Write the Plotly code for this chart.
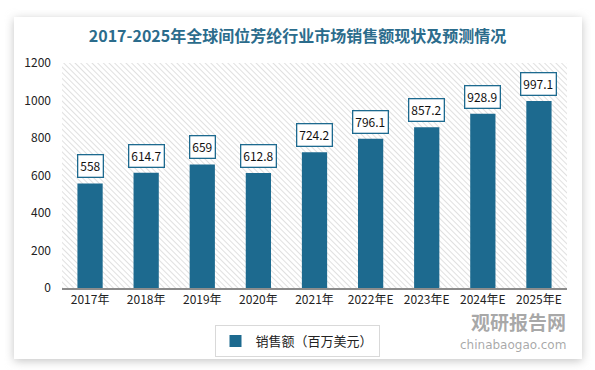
import base64
import plotly.graph_objects as go

categories = ["2017年", "2018年", "2019年", "2020年", "2021年", "2022年E", "2023年E", "2024年E", "2025年E"]
values = [558, 614.7, 659, 612.8, 724.2, 796.1, 857.2, 928.9, 997.1]
labels = ["558", "614.7", "659", "612.8", "724.2", "796.1", "857.2", "928.9", "997.1"]
series_name = "销售额（百万美元）"
title = "2017-2025年全球间位芳纶行业市场销售额现状及预测情况"

BAR = "#1d6a8f"
FONT = "Noto Sans CJK SC"

W, H = 595, 370
L, R, T, B = 62, 28, 63, 82
PW, PH = W - L - R, H - T - B

# decorative background: card with soft shadow and hatched plot area
svg = (
    f'<svg xmlns="http://www.w3.org/2000/svg" width="{W}" height="{H}">'
    '<defs>'
    '<pattern id="p" width="4" height="4" patternUnits="userSpaceOnUse" patternTransform="rotate(-45)">'
    '<rect width="4" height="4" fill="#ffffff"/>'
    '<line x1="0" y1="0" x2="0" y2="4" stroke="#cfcfcf" stroke-width="1.3"/></pattern>'
    '<filter id="s" x="-10%" y="-10%" width="120%" height="120%">'
    '<feGaussianBlur stdDeviation="5"/></filter>'
    '</defs>'
    f'<rect width="{W}" height="{H}" fill="#ffffff"/>'
    '<rect x="14" y="19" width="568" height="342" fill="#c4c4c4" filter="url(#s)"/>'
    '<rect x="14" y="17" width="568" height="342" fill="#ffffff"/>'
    f'<rect x="{L}" y="{T}" width="{PW}" height="{PH}" fill="url(#p)"/>'
    '</svg>'
)
src = "data:image/svg+xml;base64," + base64.b64encode(svg.encode()).decode()

fig = go.Figure()
fig.add_trace(go.Bar(
    x=categories, y=values, name=series_name,
    marker=dict(color=BAR, line=dict(width=0)),
    width=0.45,
))

annotations = []
for c, v, t in zip(categories, values, labels):
    annotations.append(dict(
        x=c, y=v, text=t, showarrow=False, yanchor="bottom", yshift=5,
        font=dict(family=FONT, size=12, color="#111111"),
        bgcolor="white", bordercolor=BAR, borderwidth=1.3, borderpad=2,
    ))

# watermark
annotations.append(dict(
    xref="paper", yref="paper", x=1.0, y=(288 - 321) / PH, xanchor="right", yanchor="middle",
    text="<b>观研报告网</b>", showarrow=False, borderpad=0,
    font=dict(family=FONT, size=19, color="rgba(110,110,110,0.6)"),
))
annotations.append(dict(
    xref="paper", yref="paper", x=1.0, y=(288 - 345) / PH, xanchor="right", yanchor="middle",
    text="chinabaogao.com", showarrow=False, borderpad=0,
    font=dict(family="DejaVu Sans", size=12, color="rgba(110,110,110,0.6)"),
))

fig.update_layout(
    width=W, height=H,
    margin=dict(l=L, r=R, t=T, b=B),
    paper_bgcolor="white",
    plot_bgcolor="rgba(0,0,0,0)",
    title=dict(text="<b>" + title + "</b>", x=0.5, xanchor="center", y=1 - 36 / H, yanchor="middle",
               font=dict(family=FONT, size=16, color="#2b6c8c")),
    bargap=0.55,
    showlegend=True,
    legend=dict(orientation="h", x=(297 - L) / PW, xanchor="center", y=(288 - 325) / PH, yanchor="top",
                bordercolor="#d9d9d9", borderwidth=1, bgcolor="white",
                font=dict(family=FONT, size=13, color="#222222"),
                itemwidth=30, traceorder="normal"),
    xaxis=dict(showgrid=False, showline=True, linecolor="#8c8c8c", linewidth=1.5,
               ticks="", tickfont=dict(family=FONT, size=12, color="#222222"),
               fixedrange=True),
    yaxis=dict(range=[0, 1200], dtick=200, showgrid=False, zeroline=False, showline=False,
               ticks="", ticklabelstandoff=10,
               tickfont=dict(family=FONT, size=12, color="#222222")),
    annotations=annotations,
    images=[dict(source=src, xref="paper", yref="paper", x=-L / PW, y=1 + T / PH,
                 sizex=W / PW, sizey=H / PH,
                 xanchor="left", yanchor="top", sizing="stretch", layer="below")],
)

fig.write_html("out.html", config={"displayModeBar": False},
               post_script="document.body.style.margin='0';")
